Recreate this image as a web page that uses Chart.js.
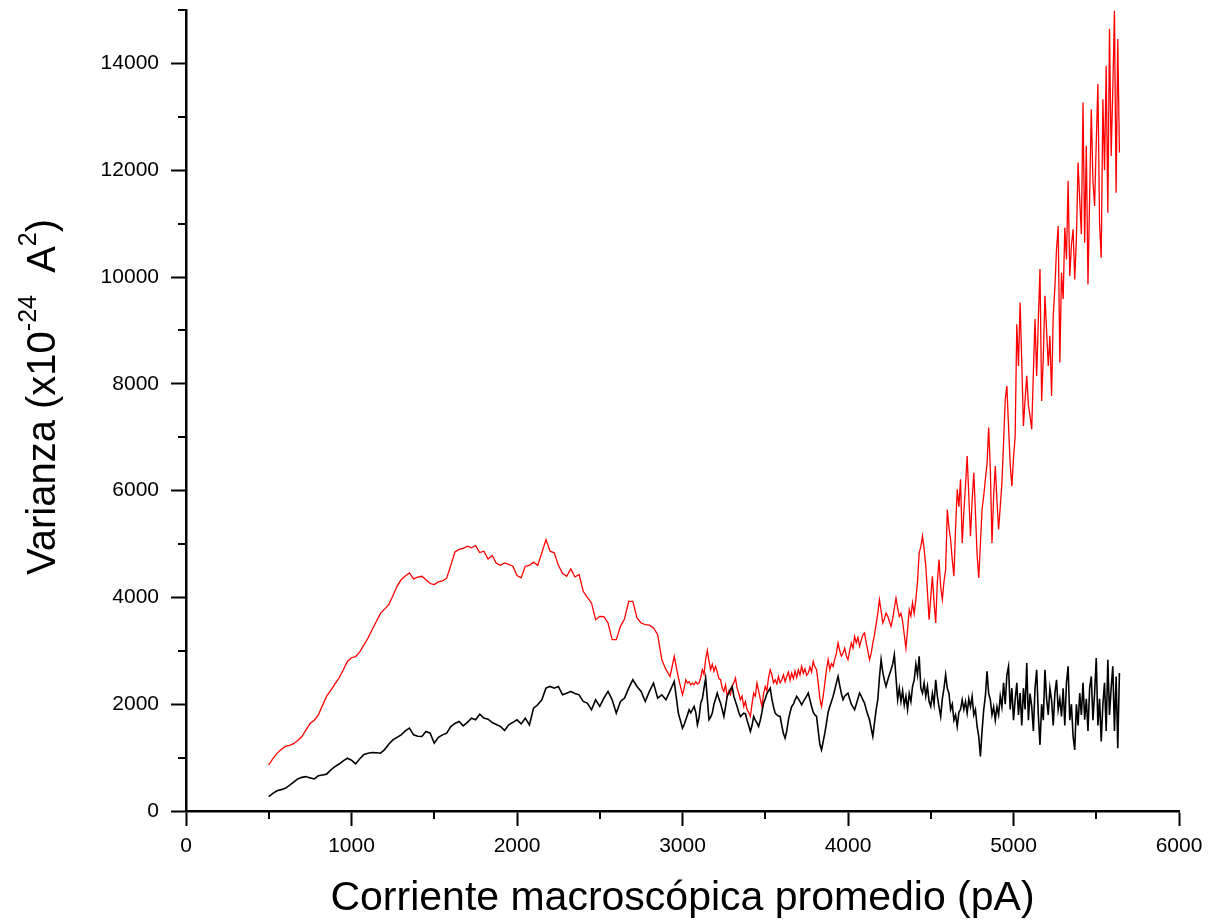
<!DOCTYPE html>
<html lang="es">
<head>
<meta charset="utf-8">
<title>Varianza frente a corriente macroscópica promedio</title>
<script src="https://cdn.jsdelivr.net/npm/chart.js@4/dist/chart.umd.min.js"></script>
<style>
  html, body { margin: 0; padding: 0; background: #fff; }
  #grafico { display: block; }
</style>
</head>
<body>
<canvas id="grafico" width="1212" height="921"></canvas>
<script>
// Corriente macroscópica promedio (pA): hasta 2975 cada 25 pA, después cada 10 pA
var corriente = [
    500, 525, 550, 575, 600, 625, 650, 675, 700, 725,
    750, 775, 800, 825, 850, 875, 900, 925, 950, 975,
    1000, 1025, 1050, 1075, 1100, 1125, 1150, 1175, 1200, 1225,
    1250, 1275, 1300, 1325, 1350, 1375, 1400, 1425, 1450, 1475,
    1500, 1525, 1550, 1575, 1600, 1625, 1650, 1675, 1700, 1725,
    1750, 1775, 1800, 1825, 1850, 1875, 1900, 1925, 1950, 1975,
    2000, 2025, 2050, 2075, 2100, 2125, 2150, 2175, 2200, 2225,
    2250, 2275, 2300, 2325, 2350, 2375, 2400, 2425, 2450, 2475,
    2500, 2525, 2550, 2575, 2600, 2625, 2650, 2675, 2700, 2725,
    2750, 2775, 2800, 2825, 2850, 2875, 2900, 2925, 2950, 2975,
    3000, 3010, 3020, 3030, 3040, 3050, 3060, 3070, 3080, 3090,
    3100, 3110, 3120, 3130, 3140, 3150, 3160, 3170, 3180, 3190,
    3200, 3210, 3220, 3230, 3240, 3250, 3260, 3270, 3280, 3290,
    3300, 3310, 3320, 3330, 3340, 3350, 3360, 3370, 3380, 3390,
    3400, 3410, 3420, 3430, 3440, 3450, 3460, 3470, 3480, 3490,
    3500, 3510, 3520, 3530, 3540, 3550, 3560, 3570, 3580, 3590,
    3600, 3610, 3620, 3630, 3640, 3650, 3660, 3670, 3680, 3690,
    3700, 3710, 3720, 3730, 3740, 3750, 3760, 3770, 3780, 3790,
    3800, 3810, 3820, 3830, 3840, 3850, 3860, 3870, 3880, 3890,
    3900, 3910, 3920, 3930, 3940, 3950, 3960, 3970, 3980, 3990,
    4000, 4010, 4020, 4030, 4040, 4050, 4060, 4070, 4080, 4090,
    4100, 4110, 4120, 4130, 4140, 4150, 4160, 4170, 4180, 4190,
    4200, 4210, 4220, 4230, 4240, 4250, 4260, 4270, 4280, 4290,
    4300, 4310, 4320, 4330, 4340, 4350, 4360, 4370, 4380, 4390,
    4400, 4410, 4420, 4430, 4440, 4450, 4460, 4470, 4480, 4490,
    4500, 4510, 4520, 4530, 4540, 4550, 4560, 4570, 4580, 4590,
    4600, 4610, 4620, 4630, 4640, 4650, 4660, 4670, 4680, 4690,
    4700, 4710, 4720, 4730, 4740, 4750, 4760, 4770, 4780, 4790,
    4800, 4810, 4820, 4830, 4840, 4850, 4860, 4870, 4880, 4890,
    4900, 4910, 4920, 4930, 4940, 4950, 4960, 4970, 4980, 4990,
    5000, 5010, 5020, 5030, 5040, 5050, 5060, 5070, 5080, 5090,
    5100, 5110, 5120, 5130, 5140, 5150, 5160, 5170, 5180, 5190,
    5200, 5210, 5220, 5230, 5240, 5250, 5260, 5270, 5280, 5290,
    5300, 5310, 5320, 5330, 5340, 5350, 5360, 5370, 5380, 5390,
    5400, 5410, 5420, 5430, 5440, 5450, 5460, 5470, 5480, 5490,
    5500, 5510, 5520, 5530, 5540, 5550, 5560, 5570, 5580, 5590,
    5600, 5610, 5620, 5630, 5640
];

// Varianza (x10^-24 A^2), registro en rojo
var varianzaRoja = [
    863, 980, 1080, 1150, 1210, 1230, 1260, 1320, 1395, 1520,
    1640, 1700, 1800, 1980, 2150, 2260, 2380, 2490, 2640, 2800,
    2870, 2890, 2980, 3110, 3240, 3400, 3550, 3700, 3780, 3864,
    4030, 4208, 4330, 4400, 4458, 4346, 4380, 4396, 4330, 4260,
    4240, 4290, 4310, 4360, 4600, 4850, 4900, 4920, 4959, 4930,
    4971, 4840, 4865, 4720, 4784, 4640, 4600, 4646, 4620, 4584,
    4408, 4365, 4584, 4600, 4660, 4600, 4834, 5084, 4865, 4834,
    4600, 4450, 4396, 4534, 4383, 4427, 4115, 4000, 3896, 3583,
    3646, 3640, 3521, 3208, 3208, 3458, 3600, 3927, 3927, 3614,
    3521, 3489, 3480, 3427, 3302, 2833, 2650, 2520, 2895, 2500,
    2176, 2300, 2458, 2395, 2420, 2360, 2395, 2364, 2420, 2380,
    2395, 2500, 2646, 2560, 2850, 3008, 2800, 2646, 2750, 2620,
    2708, 2600, 2480, 2458, 2300, 2239, 2360, 2145, 2250, 2180,
    2333, 2400, 2489, 2300, 2200, 2083, 2150, 1958, 2050, 1900,
    1850, 1770, 2000, 2208, 2150, 2395, 2250, 2100, 1958, 2200,
    2333, 2250, 2500, 2646, 2550, 2400, 2458, 2380, 2520, 2400,
    2458, 2550, 2420, 2520, 2600, 2450, 2583, 2480, 2620, 2500,
    2646, 2550, 2708, 2580, 2660, 2540, 2583, 2700, 2600, 2802,
    2700, 2646, 2400, 2100, 1958, 2145, 2400, 2650, 2833, 2650,
    2760, 2708, 2850, 2950, 3146, 3000, 2900, 2958, 3050, 2900,
    2833, 3000, 3150, 3050, 3271, 3150, 3250, 3083, 3200, 3300,
    3333, 3150, 3000, 2833, 2950, 3146, 3300, 3500, 3700, 3959,
    3750, 3521, 3600, 3708, 3650, 3550, 3458, 3600, 3800, 3990,
    3800, 3646, 3700, 3550, 3300, 3052, 3400, 3771, 3650, 3900,
    3700, 3958, 4300, 4834, 4950, 5146, 4900, 4584, 4100, 3583,
    4000, 4396, 3900, 3521, 4300, 4709, 4200, 3958, 4300, 4521,
    5647, 5300, 5084, 4700, 4396, 5300, 6022, 5700, 6210, 5021,
    5600, 6100, 6647, 5900, 5146, 5800, 6334, 5600, 4800, 4365,
    5000, 5647, 5900, 6210, 6500, 7179, 6400, 5021, 5900, 6460,
    5800, 5271, 5700, 6147, 6900, 7710, 7960, 7200, 6500, 6084,
    6600, 7022, 9117, 8335, 9523, 8400, 7210, 7700, 8148, 7600,
    7400, 7147, 8200, 9211, 8148, 9200, 10149, 7679, 8500, 9649,
    9000, 8335, 8900, 7773, 9273, 9800, 10524, 10955, 8398, 10080,
    9586, 10924, 10330, 11800, 10018, 10600, 10893, 9955, 10700, 12143,
    11455, 10800, 13268, 10643, 12456, 9861, 11500, 13143, 11800, 11330,
    12518, 13612, 11000, 10361, 13330, 12000, 13956, 11205, 14644, 12268,
    13500, 14987, 11580, 14456, 12331
];

// Varianza (x10^-24 A^2), registro en negro
var varianzaNegra = [
    269, 330, 380, 400, 425, 480, 540, 600, 630, 644,
    620, 600, 660, 675, 690, 769, 832, 880, 940, 988,
    950, 882, 980, 1060, 1082, 1094, 1090, 1082, 1150, 1250,
    1332, 1380, 1426, 1500, 1551, 1426, 1400, 1395, 1489, 1457,
    1270, 1380, 1426, 1457, 1582, 1640, 1676, 1595, 1660, 1738,
    1707, 1813, 1740, 1720, 1657, 1620, 1582, 1507, 1613, 1660,
    1707, 1632, 1738, 1613, 1926, 1989, 2082, 2301, 2333, 2301,
    2333, 2176, 2207, 2239, 2200, 2176, 2051, 2020, 1895, 2082,
    1958, 2114, 2239, 2082, 1833, 2051, 2114, 2301, 2458, 2333,
    2239, 2051, 2239, 2395, 2114, 2176, 2083, 2250, 2427, 1833,
    1551, 1620, 1708, 1800, 1895, 1840, 1900, 1958, 1850, 1614,
    1750, 2020, 2100, 2300, 2489, 2100, 1708, 1760, 1833, 2000,
    2100, 2208, 2100, 2020, 1900, 1770, 1950, 2150, 2208, 2280,
    2333, 2150, 2050, 1958, 1850, 1770, 1800, 1833, 1820, 1700,
    1600, 1489, 1600, 1770, 1700, 1650, 1583, 1700, 1850, 2020,
    2100, 2200, 2250, 2302, 2100, 1950, 1833, 1800, 1780, 1770,
    1600, 1450, 1364, 1500, 1708, 1850, 1958, 2000, 2080, 2145,
    2100, 2050, 1989, 2050, 2100, 2150, 2208, 2080, 1958, 1850,
    1800, 1770, 1500, 1250, 1145, 1300, 1457, 1650, 1850, 1958,
    2050, 2150, 2270, 2400, 2520, 2350, 2200, 2083, 2150, 2180,
    2208, 2100, 2000, 1950, 1895, 2000, 2100, 2208, 2150, 2080,
    2020, 1900, 1800, 1708, 1550, 1395, 1650, 1900, 2083, 2500,
    2833, 2600, 2450, 2333, 2450, 2550, 2646, 2750, 2927, 2500,
    2083, 2300, 2050, 2250, 1980, 2150, 1900, 2200, 2050, 2333,
    2450, 2750, 2550, 2896, 2300, 2208, 2400, 2150, 2333, 2050,
    1958, 2200, 2000, 2458, 2150, 1950, 1770, 2100, 2300, 2552,
    2300, 2200, 1900, 2000, 1700, 1800, 1583, 1850, 1900, 2083,
    1900, 2050, 1833, 2100, 1950, 2145, 1800, 1900, 1583, 1400,
    1020, 1500, 1895, 2150, 2614, 2200, 2083, 1800, 1950, 1700,
    1950, 1800, 2150, 1950, 2400, 2000, 2550, 2708, 1900, 2300,
    1700, 2083, 2400, 1800, 2208, 1600, 2300, 1900, 2771, 1700,
    2200, 1958, 1500, 2300, 2646, 1800, 1239, 2000, 1700, 2646,
    2100, 1800, 2300, 2083, 1600, 2200, 2458, 1900, 2100, 1770,
    2300, 1600, 2400, 2708, 1700, 2000, 1400, 1145, 2000, 1600,
    2208, 1800, 2400, 1708, 2100, 1500, 2300, 2520, 1700, 2200,
    2865, 1600, 2100, 1301, 2000, 2400, 1500, 2833, 1800, 2300,
    2708, 1500, 2520, 1176, 2583
];

// Ejes: límites y marcas principales con etiqueta
var rangoX = [0, 6000];
var marcasX = [0, 1000, 2000, 3000, 4000, 5000, 6000];
var rangoY = [0, 15000];
var marcasY = [0, 2000, 4000, 6000, 8000, 10000, 12000, 14000];

var tituloX = 'Corriente macroscópica promedio (pA)';
// Título del eje Y por trozos: los superíndices van más pequeños y elevados
var tituloY = [
    { texto: 'Varianza (x10', sup: false },
    { texto: '-24', sup: true },
    { texto: '  A', sup: false },
    { texto: '2', sup: true },
    { texto: ')', sup: false }
];

var fuente = '"Liberation Sans", Arial, Helvetica, sans-serif';

function puntos(valores) {
    return corriente.map(function (x, i) {
        return { x: x, y: valores[i] };
    });
}

function fijarMarcas(valores) {
    return function (escala) {
        escala.ticks = valores.map(function (v) { return { value: v }; });
    };
}

// Marcas secundarias a mitad de camino entre las principales, hacia fuera
var marcasMenores = {
    id: 'marcasMenores',
    afterDraw: function (chart) {
        var ctx = chart.ctx;
        var escX = chart.scales.x;
        var escY = chart.scales.y;
        var mitadX = (marcasX[1] - marcasX[0]) / 2;
        var mitadY = (marcasY[1] - marcasY[0]) / 2;
        ctx.save();
        ctx.strokeStyle = '#000';
        ctx.lineWidth = 2;
        ctx.beginPath();
        marcasX.forEach(function (m) {
            var v = m + mitadX;
            if (v > escX.max) { return; }
            var px = Math.round(escX.getPixelForValue(v));
            ctx.moveTo(px, escX.top);
            ctx.lineTo(px, escX.top + 8);
        });
        marcasY.forEach(function (m) {
            var v = m + mitadY;
            if (v > escY.max) { return; }
            var py = Math.round(escY.getPixelForValue(v));
            ctx.moveTo(escY.right, py);
            ctx.lineTo(escY.right - 8, py);
        });
        ctx.stroke();
        ctx.restore();
    }
};

// Títulos de los ejes
var titulosEjes = {
    id: 'titulosEjes',
    afterDraw: function (chart) {
        var ctx = chart.ctx;
        var area = chart.chartArea;
        ctx.save();
        ctx.fillStyle = '#000';
        ctx.textBaseline = 'alphabetic';

        ctx.font = '41px ' + fuente;
        ctx.textAlign = 'center';
        ctx.fillText(tituloX, (area.left + area.right) / 2, 910);

        ctx.textAlign = 'left';
        ctx.translate(55, 575);
        ctx.rotate(-Math.PI / 2);
        var pos = 0;
        tituloY.forEach(function (trozo) {
            ctx.font = (trozo.sup ? 25 : 40) + 'px ' + fuente;
            ctx.fillText(trozo.texto, pos, trozo.sup ? -19 : 0);
            pos += ctx.measureText(trozo.texto).width;
        });
        ctx.restore();
    }
};

Chart.defaults.font.family = fuente;
Chart.defaults.color = '#000';

var grafico = new Chart(document.getElementById('grafico').getContext('2d'), {
    type: 'line',
    data: {
        datasets: [
            {
                label: 'rojo',
                data: puntos(varianzaRoja),
                borderColor: '#ff0000',
                borderWidth: 1.3,
                pointRadius: 0,
                tension: 0,
                fill: false,
                order: 1
            },
            {
                label: 'negro',
                data: puntos(varianzaNegra),
                borderColor: '#000000',
                borderWidth: 1.6,
                pointRadius: 0,
                tension: 0,
                fill: false,
                order: 0
            }
        ]
    },
    options: {
        responsive: false,
        devicePixelRatio: 1,
        animation: false,
        layout: { padding: { left: 0, right: 33, top: 10, bottom: 0 } },
        plugins: {
            legend: { display: false },
            tooltip: { enabled: false }
        },
        scales: {
            x: {
                type: 'linear',
                min: rangoX[0],
                max: rangoX[1],
                afterBuildTicks: fijarMarcas(marcasX),
                afterFit: function (escala) {
                    escala.height = 110;
                    escala.paddingLeft = 0;
                    escala.paddingRight = 0;
                },
                border: { display: true, color: '#000', width: 2.5 },
                grid: {
                    drawOnChartArea: false,
                    drawTicks: true,
                    tickLength: 15,
                    tickColor: '#000',
                    tickWidth: 2
                },
                ticks: {
                    padding: 8,
                    maxRotation: 0,
                    font: { size: 21 },
                    color: '#000',
                    callback: function (v) { return String(v); }
                }
            },
            y: {
                type: 'linear',
                min: rangoY[0],
                max: rangoY[1],
                afterBuildTicks: fijarMarcas(marcasY),
                afterFit: function (escala) {
                    escala.width = 186;
                    escala.paddingTop = 0;
                    escala.paddingBottom = 0;
                },
                border: { display: true, color: '#000', width: 2.5 },
                grid: {
                    drawOnChartArea: false,
                    drawTicks: true,
                    tickLength: 15,
                    tickColor: '#000',
                    tickWidth: 2
                },
                ticks: {
                    padding: 12,
                    font: { size: 21 },
                    color: '#000',
                    callback: function (v) { return String(v); }
                }
            }
        }
    },
    plugins: [marcasMenores, titulosEjes]
});
</script>
</body>
</html>
